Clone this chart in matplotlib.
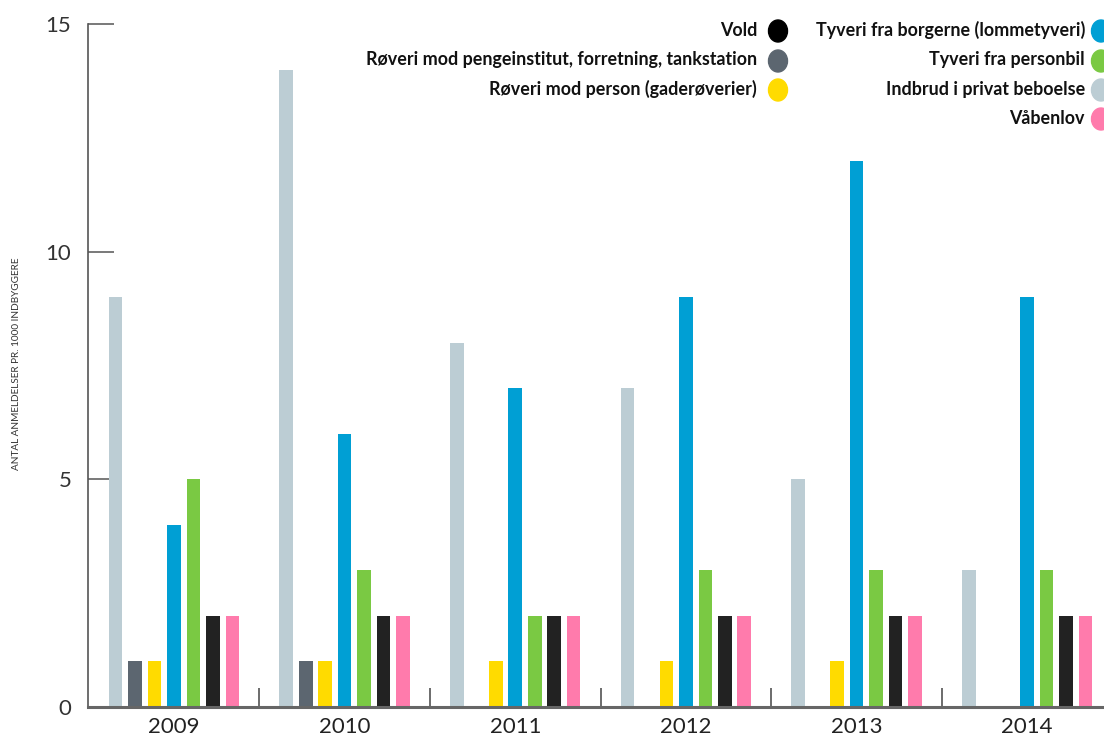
import matplotlib
matplotlib.use("Agg")
import matplotlib.pyplot as plt
from matplotlib.patches import Ellipse
import numpy as np

years = ["2009", "2010", "2011", "2012", "2013", "2014"]
series = [
    "Indbrud i privat beboelse",
    "Røveri mod pengeinstitut, forretning, tankstation",
    "Røveri mod person (gaderøverier)",
    "Tyveri fra borgerne (lommetyveri)",
    "Tyveri fra personbil",
    "Vold",
    "Våbenlov",
]
indbrud = [9, 14, 8, 7, 5, 3]
roveri_penge = [1, 1, 0, 0, 0, 0]
roveri_person = [1, 1, 1, 1, 1, 0]
tyveri_borgere = [4, 6, 7, 9, 12, 9]
tyveri_bil = [5, 3, 2, 3, 3, 3]
vold = [2, 2, 2, 2, 2, 2]
vaabenlov = [2, 2, 2, 2, 2, 2]
values = [indbrud, roveri_penge, roveri_person, tyveri_borgere, tyveri_bil, vold, vaabenlov]
colors = ["#BCCDD4", "#5C6670", "#FFDB00", "#009FD4", "#7AC943", "#222222", "#FF7BAC"]
legend_colors = {"Vold": "#000000"}

yticks = [0, 5, 10, 15]

plt.rcParams['font.family'] = ['Lato', 'DejaVu Sans']

W, H = 1104, 738
fig = plt.figure(figsize=(W / 100, H / 100), dpi=100)
left_px, bottom_px, top_px = 88, 707, 24
ax = fig.add_axes([left_px / W, (H - bottom_px) / H, 1 - left_px / W, (bottom_px - top_px) / H])

x = np.arange(len(years))
step = 0.114
width = 0.08
for k, (vals, c) in enumerate(zip(values, colors)):
    ax.bar(x + (k - 3) * step, vals, width=width, color=c, linewidth=0, zorder=2)

ax.set_xlim(-0.504, 5.45)
ax.set_ylim(0, 15)

for s in ["top", "right"]:
    ax.spines[s].set_visible(False)
ax.spines["left"].set_color("#555555")
ax.spines["left"].set_linewidth(1.2)
ax.spines["bottom"].set_color("#666666")
ax.spines["bottom"].set_linewidth(2.2)
ax.spines["bottom"].set_zorder(3)

ax.set_yticks(yticks)
ax.set_yticklabels([str(v) for v in yticks])
ax.tick_params(axis="y", direction="in", length=18.5, width=1.1, color="#555555",
               pad=12, labelsize=16, labelcolor="#333333")
ticks = ax.yaxis.get_major_ticks()
ticks[0].tick1line.set_visible(False)
ticks[1].tick1line.set_markersize(15)

ax.set_xticks(x)
ax.set_xticklabels(years)
ax.tick_params(axis="x", which="major", length=0, pad=7, labelsize=16, labelcolor="#222222")
ax.set_xticks(x[:-1] + 0.5, minor=True)
ax.tick_params(axis="x", which="minor", direction="in", length=14, width=1.1, color="#444444")

fig.text(17 / W, 1 - 364 / H, "ANTAL ANMELDELSER PR. 1000 INDBYGGERE", rotation=90,
         ha="center", va="center", fontsize=7.2, color="#333333")

# legend overlay
ov = fig.add_axes([0, 0, 1, 1], facecolor="none")
ov.set_xlim(0, W)
ov.set_ylim(H, 0)
ov.axis("off")
col1 = ["Vold", "Røveri mod pengeinstitut, forretning, tankstation", "Røveri mod person (gaderøverier)"]
col2 = ["Tyveri fra borgerne (lommetyveri)", "Tyveri fra personbil", "Indbrud i privat beboelse", "Våbenlov"]
row_y = [30, 60, 89, 118]
for names, text_x, circ_x in [(col1, 757, 778), (col2, 1085, 1101)]:
    for i, name in enumerate(names):
        c = legend_colors.get(name, colors[series.index(name)])
        ov.text(text_x, row_y[i], name, ha="right", va="center", fontsize=12.9,
                fontweight="bold", color="#111111")
        ov.add_patch(Ellipse((circ_x, row_y[i] + 1), 19, 22, color=c, clip_on=False))

fig.savefig("out.png", dpi=100)
